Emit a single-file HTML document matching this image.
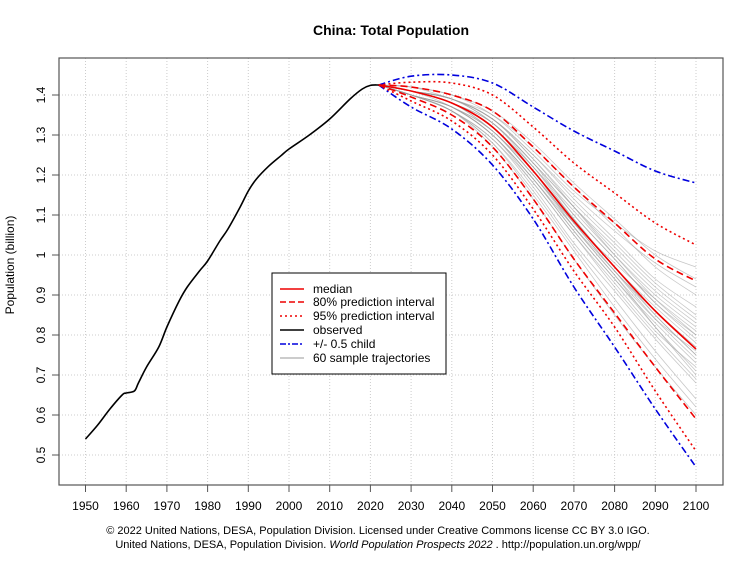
<!DOCTYPE html>
<html><head><meta charset="utf-8"><style>
body{margin:0;background:#fff;font-family:"Liberation Sans",sans-serif}
svg{display:block}
text{font-family:"Liberation Sans",sans-serif}
</style></head><body>
<svg id="chart" width="755" height="566">
<text x="391" y="35" text-anchor="middle" font-size="14" font-weight="bold">China: Total Population</text>
<g id="grid"></g>
<g id="axes"></g>
<g id="series"></g>
<rect x="59" y="58" width="664" height="427" fill="none" stroke="#555" stroke-width="1.2"/>
<text transform="translate(14,265) rotate(-90)" text-anchor="middle" font-size="12">Population (billion)</text>
<g>
<rect x="272" y="273" width="174" height="101" fill="#fff" stroke="#000"/>
<g font-size="12">
<line x1="280" y1="289" x2="304" y2="289" stroke="#e00" stroke-width="1.5"/><text x="313" y="293">median</text>
<line x1="280" y1="302" x2="304" y2="302" stroke="#e00" stroke-width="1.5" stroke-dasharray="6,3"/><text x="313" y="306">80% prediction interval</text>
<line x1="280" y1="316" x2="304" y2="316" stroke="#e00" stroke-width="1.5" stroke-dasharray="2,3"/><text x="313" y="320">95% prediction interval</text>
<line x1="280" y1="330" x2="304" y2="330" stroke="#000" stroke-width="1.5"/><text x="313" y="334">observed</text>
<line x1="280" y1="344" x2="304" y2="344" stroke="#00d" stroke-width="1.5" stroke-dasharray="6,2,2,2"/><text x="313" y="348">+/- 0.5 child</text>
<line x1="280" y1="358" x2="304" y2="358" stroke="#bbb" stroke-width="1.5"/><text x="313" y="362">60 sample trajectories</text>
</g></g>
<text x="378" y="534" text-anchor="middle" font-size="11">© 2022 United Nations, DESA, Population Division. Licensed under Creative Commons license CC BY 3.0 IGO.</text>
<text x="378" y="548" text-anchor="middle" font-size="11">United Nations, DESA, Population Division. <tspan font-style="italic">World Population Prospects 2022</tspan> . http://population.un.org/wpp/</text>
</svg>
<script>
const xTicks=[1950,1960,1970,1980,1990,2000,2010,2020,2030,2040,2050,2060,2070,2080,2090,2100];
const yTicks=[0.5,0.6,0.7,0.8,0.9,1.0,1.1,1.2,1.3,1.4];
const yTickLabels=["0.5","0.6","0.7","0.8","0.9","1","1.1","1.2","1.3","1.4"];
const obsYears=[1950,1953,1956,1959,1960,1962,1963,1965,1968,1970,1973,1975,1978,1980,1983,1985,1988,1990,1992,1995,1998,2000,2005,2010,2015,2018,2020,2022];
const obsValues=[0.54,0.575,0.615,0.65,0.655,0.66,0.68,0.72,0.77,0.82,0.885,0.92,0.96,0.985,1.035,1.065,1.12,1.16,1.19,1.222,1.248,1.265,1.30,1.34,1.39,1.415,1.424,1.425];
const projYears=[2022,2030,2040,2050,2060,2070,2080,2090,2100];
const median=[1.425,1.41,1.38,1.32,1.21,1.085,0.97,0.86,0.765];
const pi80Upper=[1.425,1.42,1.40,1.36,1.27,1.17,1.08,0.99,0.935];
const pi80Lower=[1.425,1.395,1.35,1.27,1.14,0.99,0.855,0.72,0.59];
const pi95Upper=[1.425,1.432,1.43,1.40,1.32,1.23,1.155,1.08,1.025];
const pi95Lower=[1.425,1.385,1.335,1.25,1.115,0.96,0.82,0.66,0.51];
const childUpper=[1.425,1.447,1.45,1.43,1.37,1.31,1.26,1.21,1.18];
const childLower=[1.425,1.37,1.315,1.225,1.09,0.92,0.77,0.615,0.47];
const trajectories=[
[1.425,1.42,1.40,1.36,1.28,1.18,1.09,1.00,0.94],
[1.425,1.41,1.39,1.34,1.25,1.14,1.04,0.94,0.87],
[1.425,1.41,1.38,1.32,1.22,1.10,0.99,0.88,0.79],
[1.425,1.40,1.37,1.30,1.19,1.06,0.94,0.83,0.73],
[1.425,1.40,1.36,1.29,1.17,1.03,0.91,0.79,0.68],
[1.425,1.41,1.38,1.33,1.23,1.12,1.02,0.92,0.84],
[1.425,1.41,1.39,1.33,1.22,1.09,0.97,0.85,0.75],
[1.425,1.40,1.37,1.31,1.20,1.07,0.95,0.84,0.76],
[1.425,1.42,1.40,1.35,1.26,1.16,1.08,1.01,0.97],
[1.425,1.41,1.38,1.32,1.21,1.07,0.95,0.82,0.70],
[1.425,1.40,1.36,1.28,1.16,1.02,0.89,0.76,0.64],
[1.425,1.41,1.38,1.31,1.20,1.08,0.98,0.89,0.81],
[1.425,1.41,1.39,1.34,1.24,1.13,1.03,0.93,0.85],
[1.425,1.40,1.37,1.30,1.18,1.05,0.92,0.80,0.69],
[1.425,1.41,1.38,1.32,1.22,1.11,1.00,0.90,0.82],
[1.425,1.40,1.36,1.29,1.18,1.05,0.93,0.81,0.72],
[1.425,1.41,1.39,1.34,1.25,1.15,1.06,0.98,0.92],
[1.425,1.40,1.37,1.30,1.19,1.06,0.94,0.82,0.71],
[1.425,1.41,1.38,1.31,1.21,1.09,0.97,0.87,0.78],
[1.425,1.40,1.36,1.28,1.15,1.01,0.87,0.74,0.62],
[1.425,1.41,1.38,1.33,1.23,1.10,0.99,0.88,0.80],
[1.425,1.41,1.39,1.33,1.23,1.12,1.01,0.91,0.83],
[1.425,1.40,1.37,1.31,1.20,1.08,0.96,0.86,0.77],
[1.425,1.41,1.38,1.32,1.21,1.08,0.96,0.84,0.74],
[1.425,1.42,1.39,1.35,1.27,1.17,1.07,0.97,0.90],
[1.425,1.40,1.36,1.27,1.14,0.99,0.85,0.72,0.60],
[1.425,1.41,1.37,1.30,1.19,1.07,0.96,0.85,0.75],
[1.425,1.41,1.39,1.34,1.24,1.12,1.00,0.89,0.80]
];
const NS="http://www.w3.org/2000/svg";
function xs(v){return 85.5+(v-1950)*4.07;}
function ys(v){return 95+(1.4-v)*400;}
function mk(tag,attrs,parent){const e=document.createElementNS(NS,tag);for(const k in attrs)e.setAttribute(k,attrs[k]);parent.appendChild(e);return e;}
const grid=document.getElementById('grid'),axes=document.getElementById('axes'),series=document.getElementById('series');
xTicks.forEach(t=>{
 const g=mk('line',{x1:xs(t),x2:xs(t),y1:58,y2:485,stroke:'#ccc','stroke-dasharray':'1,2'},grid);
 
 
 const tk=mk('line',{x1:xs(t),x2:xs(t),y1:485,y2:492,stroke:'#555'},axes);
 
 
 const l=mk('text',{x:xs(t),y:510,'text-anchor':'middle','font-size':'12'},axes);
 l.textContent=t;
 
 
});
yTicks.forEach((t,i)=>{
 const g=mk('line',{x1:59,x2:723,y1:ys(t),y2:ys(t),stroke:'#ccc','stroke-dasharray':'1,2'},grid);
 
 
 const tk=mk('line',{x1:52,x2:59,y1:ys(t),y2:ys(t),stroke:'#555'},axes);
 
 
 const l=mk('text',{transform:`translate(45,${ys(t)}) rotate(-90)`,'text-anchor':'middle','font-size':'12'},axes);
 l.textContent=yTickLabels[i];
 
 
});
function path(xv,yv){
 const p=xv.map((x,i)=>[xs(x),ys(yv[i])]);
 let d='M'+p[0][0]+','+p[0][1];
 for(let i=0;i<p.length-1;i++){
  const p0=p[Math.max(0,i-1)],p1=p[i],p2=p[i+1],p3=p[Math.min(p.length-1,i+2)];
  const c1x=p1[0]+(p2[0]-p0[0])/6,c1y=p1[1]+(p2[1]-p0[1])/6,c2x=p2[0]-(p3[0]-p1[0])/6,c2y=p2[1]-(p3[1]-p1[1])/6;
  d+=` C${c1x},${c1y} ${c2x},${c2y} ${p2[0]},${p2[1]}`;
 }
 return d;
}
trajectories.forEach(tr=>{
 const e=mk('path',{d:path(projYears,tr),fill:'none',stroke:'#999','stroke-opacity':'0.55','stroke-width':'0.8'},series);
 
 
});
function line(yv,stroke,dash,name){
 const e=mk('path',{d:path(projYears,yv),fill:'none',stroke:stroke,'stroke-width':'1.6','stroke-dasharray':dash},series);
 
 
}
line(childUpper,'#00d','7,3,2,3','half-child-upper');
line(childLower,'#00d','7,3,2,3','half-child-lower');
line(pi95Upper,'#e00','2,3','pi95-upper');
line(pi95Lower,'#e00','2,3','pi95-lower');
line(pi80Upper,'#e00','7,4','pi80-upper');
line(pi80Lower,'#e00','7,4','pi80-lower');
line(median,'#e00','none','median-line');
const ob=mk('path',{d:path(obsYears,obsValues),fill:'none',stroke:'#000','stroke-width':'1.6'},series);


</script>
</body></html>
